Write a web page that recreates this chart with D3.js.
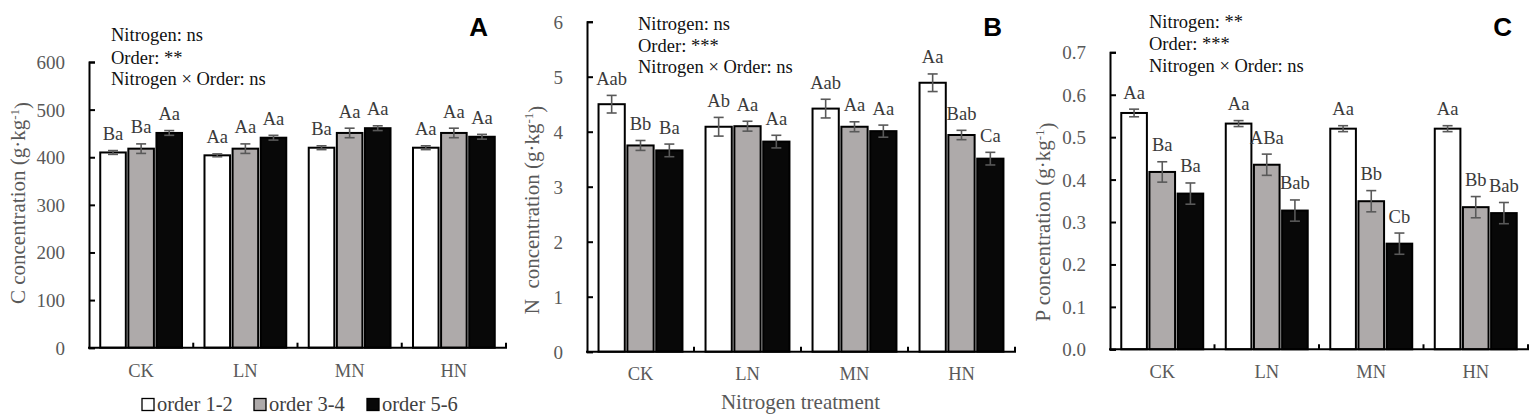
<!DOCTYPE html>
<html><head><meta charset="utf-8">
<script src="https://cdn.jsdelivr.net/npm/d3@7/dist/d3.min.js"></script>
<style>body{margin:0;background:#fff;overflow:hidden}</style>
</head><body><svg id="chart" width="1535" height="418"></svg>
<script>
// ---------------- data ----------------
const categories = ["CK", "LN", "MN", "HN"];
const seriesNames = ["order 1-2", "order 3-4", "order 5-6"];
const seriesColors = ["#ffffff", "#aeaaaa", "#080808"];

// Panel A: C concentration (g·kg-1)  [series][category]
const cMeans = [[410, 404, 420, 420], [418, 418, 451, 451], [451, 441, 461, 443]];
const cErrors = [[4, 3, 4, 4], [10, 10, 10, 10], [5, 5, 5, 5]];
const cLetters = [["Ba", "Aa", "Ba", "Aa"], ["Ba", "Aa", "Aa", "Aa"], ["Aa", "Aa", "Aa", "Aa"]];
const cTicks = [0, 100, 200, 300, 400, 500, 600];
const cStats = ["Nitrogen: ns", "Order: **", "Nitrogen × Order: ns"];

// Panel B: N concentration (g·kg-1)
const nMeans = [[4.50, 4.09, 4.42, 4.89], [3.75, 4.10, 4.09, 3.94], [3.66, 3.82, 4.01, 3.51]];
const nErrors = [[0.16, 0.17, 0.17, 0.16], [0.09, 0.09, 0.09, 0.085], [0.115, 0.115, 0.11, 0.115]];
const nLetters = [["Aab", "Ab", "Aab", "Aa"], ["Bb", "Aa", "Aa", "Bab"], ["Ba", "Aa", "Aa", "Ca"]];
const nTicks = [0, 1, 2, 3, 4, 5, 6];
const nStats = ["Nitrogen: ns", "Order: ***", "Nitrogen × Order: ns"];

// Panel C: P concentration (g·kg-1)
const pMeans = [[0.557, 0.532, 0.520, 0.520], [0.418, 0.435, 0.349, 0.335], [0.367, 0.327, 0.249, 0.321]];
const pErrors = [[0.009, 0.007, 0.007, 0.007], [0.024, 0.025, 0.025, 0.025], [0.025, 0.025, 0.025, 0.025]];
const pLetters = [["Aa", "Aa", "Aa", "Aa"], ["Ba", "ABa", "Bb", "Bb"], ["Ba", "Bab", "Cb", "Bab"]];
const pTicks = [0, 0.1, 0.2, 0.3, 0.4, 0.5, 0.6, 0.7];
const pStats = ["Nitrogen: **", "Order: ***", "Nitrogen × Order: ns"];

const xTitle = "Nitrogen treatment";

// ---------------- layout ----------------
const SERIF = "'Liberation Serif','Times New Roman',serif";
const SANS = "'Liberation Sans',Arial,sans-serif";
const svg = d3.select("#chart");

const panels = [
  {means: cMeans, errors: cErrors, letters: cLetters, ticks: cTicks, stats: cStats, fmt: d3.format("d"),
   label: "A", yName: "C concentration (g·kg", x0: 89, x1: 506, yTop: 62, yBot: 347.7,
   statsX: 111, statsY: [41, 63.5, 85], titleX: 25, titleY: 203, catY: 377, letterX: 488, letterY: 36},
  {means: nMeans, errors: nErrors, letters: nLetters, ticks: nTicks, stats: nStats, fmt: d3.format("d"),
   label: "B", yName: "N  concentration (g·kg", x0: 587, x1: 1015, yTop: 21.7, yBot: 351.7,
   statsX: 638, statsY: [30, 51.5, 73], titleX: 539, titleY: 210, catY: 380, letterX: 1002, letterY: 36},
  {means: pMeans, errors: pErrors, letters: pLetters, ticks: pTicks, stats: pStats, fmt: d3.format(".1f"),
   label: "C", yName: "P concentration (g·kg", x0: 1110, x1: 1528, yTop: 52.3, yBot: 349.3,
   statsX: 1149, statsY: [28, 50, 72], titleX: 1050, titleY: 222, catY: 378, letterX: 1512, letterY: 36}
];

panels.forEach(p => {
  const g = svg.append("g");
  const y = d3.scaleLinear().domain([0, d3.max(p.ticks)]).range([p.yBot, p.yTop]);
  const x = d3.scaleBand().domain(categories).range([p.x0, p.x1]);
  const xs = d3.scaleBand().domain(seriesNames).range([0, x.bandwidth()]).paddingInner(0.09).paddingOuter(0.4);

  // bars
  seriesNames.forEach((s, si) => {
    const grp = g.append("g");
    grp.selectAll("rect").data(categories).join("rect")
      .attr("x", c => x(c) + xs(s))
      .attr("width", xs.bandwidth())
      .attr("y", (c, ci) => y(p.means[si][ci]))
      .attr("height", (c, ci) => y(0) - y(p.means[si][ci]))
      .attr("fill", seriesColors[si])
      .attr("stroke", "#000").attr("stroke-width", 2);
    // error bars
    const eb = grp.selectAll("g.eb").data(categories).join("g").attr("class", "eb")
      .attr("stroke", "#595959").attr("stroke-width", 1.6);
    const cx = c => x(c) + xs(s) + xs.bandwidth() / 2;
    eb.append("line").attr("x1", cx).attr("x2", cx)
      .attr("y1", (c, ci) => y(p.means[si][ci] - p.errors[si][ci]))
      .attr("y2", (c, ci) => y(p.means[si][ci] + p.errors[si][ci]));
    [-1, 1].forEach(sg => {
      eb.append("line").attr("x1", c => cx(c) - 5).attr("x2", c => cx(c) + 5)
        .attr("y1", (c, ci) => y(p.means[si][ci] + sg * p.errors[si][ci]))
        .attr("y2", (c, ci) => y(p.means[si][ci] + sg * p.errors[si][ci]));
    });
    // significance letters
    grp.selectAll("text.sig").data(categories).join("text").attr("class", "sig")
      .attr("x", cx)
      .attr("y", (c, ci) => y(p.means[si][ci] + p.errors[si][ci]) - 10.5)
      .attr("text-anchor", "middle")
      .attr("font-family", SERIF).attr("font-size", 18.5).attr("fill", "#3a3a3a")
      .text((c, ci) => p.letters[si][ci]);
  });

  // y axis
  const ya = g.append("g").attr("transform", `translate(${p.x0},0)`)
    .call(d3.axisLeft(y).tickValues(p.ticks).tickFormat(p.fmt).tickSizeInner(-6).tickSizeOuter(-6).tickPadding(24));
  ya.select(".domain").attr("stroke", "#000").attr("stroke-width", 2);
  ya.selectAll(".tick line").attr("stroke", "#000").attr("stroke-width", 2);
  ya.selectAll(".tick text").attr("font-family", SERIF).attr("font-size", 19).attr("fill", "#595959").attr("dy", "0.34em");

  // x axis line with boundary ticks
  g.append("line").attr("x1", p.x0 - 1).attr("x2", p.x1 + 1).attr("y1", y(0)).attr("y2", y(0))
    .attr("stroke", "#000").attr("stroke-width", 2);
  g.selectAll("line.xt").data(categories).join("line").attr("class", "xt")
    .attr("x1", c => x(c) + x.bandwidth()).attr("x2", c => x(c) + x.bandwidth())
    .attr("y1", y(0)).attr("y2", y(0) - 5).attr("stroke", "#000").attr("stroke-width", 2);
  g.selectAll("text.cat").data(categories).join("text").attr("class", "cat")
    .attr("x", c => x(c) + x.bandwidth() / 2).attr("y", p.catY)
    .attr("text-anchor", "middle").attr("font-family", SERIF).attr("font-size", 18.5).attr("fill", "#595959")
    .text(c => c);

  // y title
  const yt = g.append("text").attr("transform", `translate(${p.titleX},${p.titleY}) rotate(-90)`)
    .attr("text-anchor", "middle").attr("font-family", SERIF).attr("font-size", 21).attr("fill", "#595959")
    .style("white-space", "pre");
  yt.append("tspan").text(p.yName);
  yt.append("tspan").attr("dy", "-0.45em").attr("font-size", 13).text("-1");
  yt.append("tspan").attr("dy", "0.45em").text(")");

  // stats
  g.selectAll("text.stat").data(p.stats).join("text").attr("class", "stat")
    .attr("x", p.statsX).attr("y", (d, i) => p.statsY[i])
    .attr("font-family", SERIF).attr("font-size", 18.5).attr("fill", "#111")
    .text(d => d);

  // panel letter
  g.append("text").attr("x", p.letterX).attr("y", p.letterY)
    .attr("text-anchor", "end").attr("font-family", SANS).attr("font-weight", "bold")
    .attr("font-size", 26).attr("fill", "#000").text(p.label);
});

// legend
const legX = [142, 254, 367];
const lg = svg.append("g");
seriesNames.forEach((s, i) => {
  lg.append("rect").attr("x", legX[i]).attr("y", 398.5).attr("width", 12).attr("height", 12)
    .attr("fill", seriesColors[i]).attr("stroke", "#000").attr("stroke-width", 1.3);
  lg.append("text").attr("x", legX[i] + 15).attr("y", 410.5)
    .attr("font-family", SERIF).attr("font-size", 20.5).attr("fill", "#404040").text(s);
});

// x title
svg.append("text").attr("x", 800.5).attr("y", 409).attr("text-anchor", "middle")
  .attr("font-family", SERIF).attr("font-size", 21).attr("fill", "#595959").text(xTitle);
</script></body></html>
